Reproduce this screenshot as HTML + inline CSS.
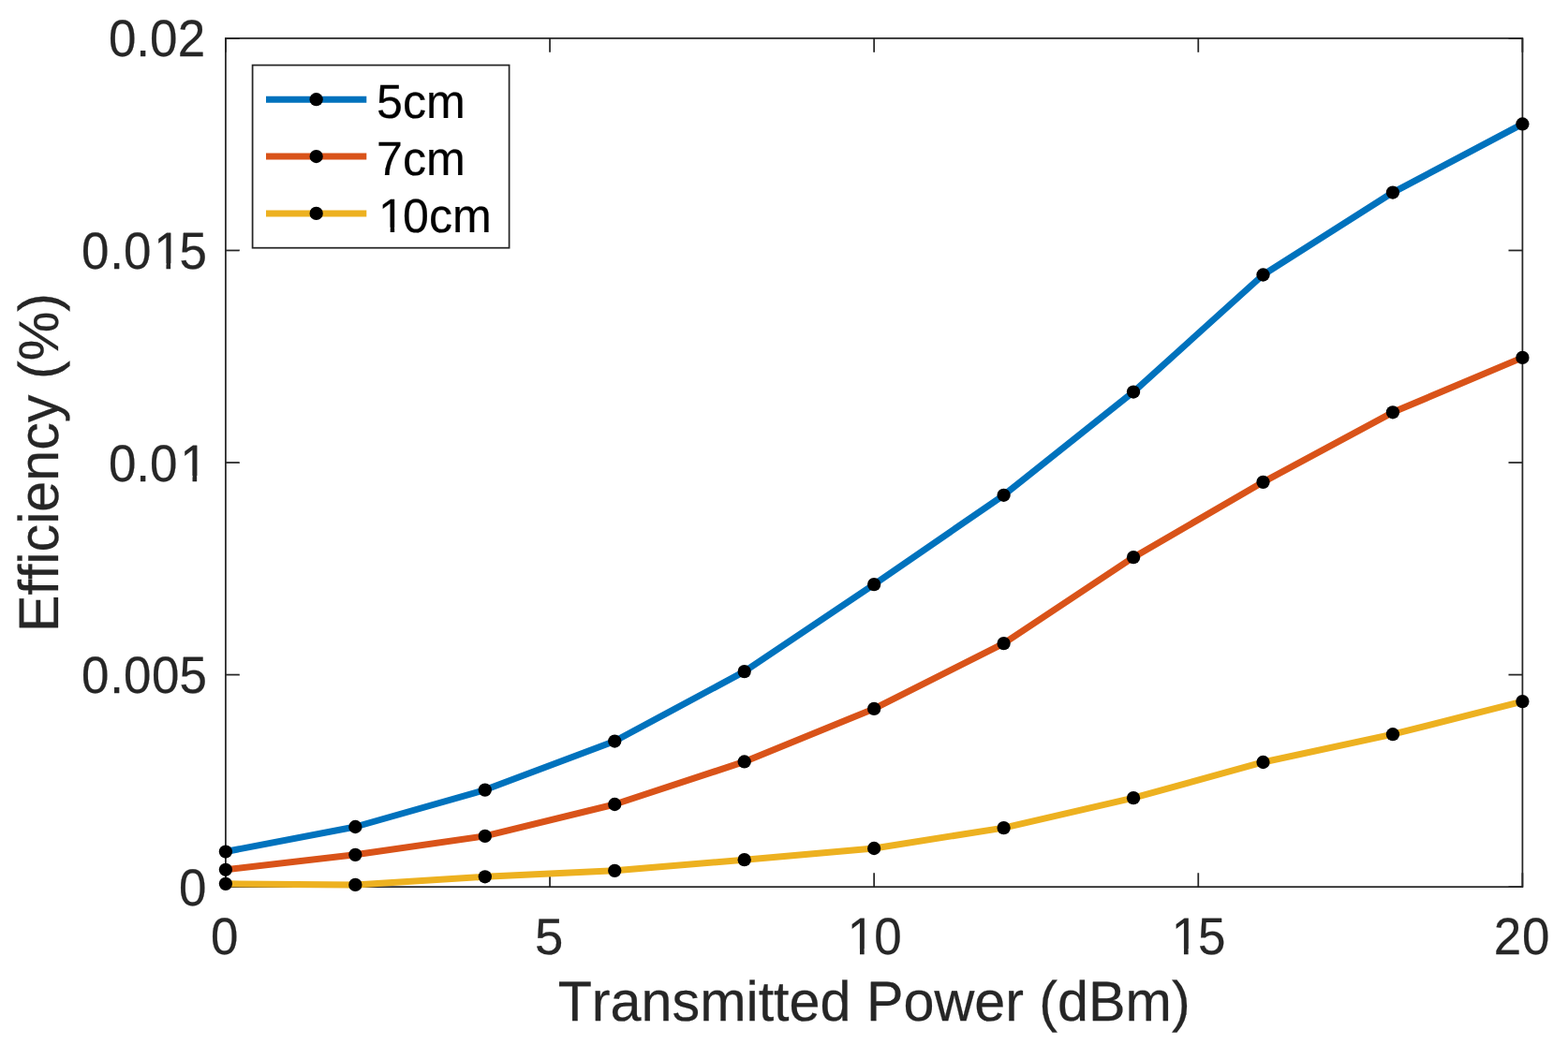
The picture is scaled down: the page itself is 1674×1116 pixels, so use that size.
<!DOCTYPE html>
<html lang="en">
<head>
<meta charset="utf-8">
<title>Efficiency (%) vs Transmitted Power (dBm)</title>
<style>
html,body{margin:0;padding:0;background:#fff;}
body{width:1674px;height:1116px;overflow:hidden;}
svg{display:block;}
text{font-family:"Liberation Sans",Arial,Helvetica,sans-serif;font-kerning:none;text-rendering:geometricPrecision;}
.tick{font-size:54px;fill:#262626;stroke:#262626;stroke-width:0.25px;}
.lab{font-size:59.4px;fill:#262626;stroke:#262626;stroke-width:0.25px;}
.leg{font-size:49.5px;fill:#000;stroke:#000;stroke-width:0.2px;}
</style>
</head>
<body>
<svg width="1674" height="1116" viewBox="0 0 1674 1116" role="img" aria-label="Efficiency (%) versus Transmitted Power (dBm) for 5cm, 7cm and 10cm">
<rect x="0" y="0" width="1674" height="1116" fill="#ffffff"/>
<g id="axes" stroke="#262626" stroke-width="1.75" fill="none" stroke-linecap="square">
<rect x="240.9" y="40.9" width="1384.5" height="906.25"/>
<line x1="240.90" y1="947.15" x2="240.90" y2="932.25" stroke-linecap="butt"/>
<line x1="240.90" y1="40.9" x2="240.90" y2="55.8" stroke-linecap="butt"/>
<line x1="587.02" y1="947.15" x2="587.02" y2="932.25" stroke-linecap="butt"/>
<line x1="587.02" y1="40.9" x2="587.02" y2="55.8" stroke-linecap="butt"/>
<line x1="933.15" y1="947.15" x2="933.15" y2="932.25" stroke-linecap="butt"/>
<line x1="933.15" y1="40.9" x2="933.15" y2="55.8" stroke-linecap="butt"/>
<line x1="1279.28" y1="947.15" x2="1279.28" y2="932.25" stroke-linecap="butt"/>
<line x1="1279.28" y1="40.9" x2="1279.28" y2="55.8" stroke-linecap="butt"/>
<line x1="1625.40" y1="947.15" x2="1625.40" y2="932.25" stroke-linecap="butt"/>
<line x1="1625.40" y1="40.9" x2="1625.40" y2="55.8" stroke-linecap="butt"/>
<line x1="240.9" y1="947.15" x2="255.8" y2="947.15" stroke-linecap="butt"/>
<line x1="1625.4" y1="947.15" x2="1610.5" y2="947.15" stroke-linecap="butt"/>
<line x1="240.9" y1="720.59" x2="255.8" y2="720.59" stroke-linecap="butt"/>
<line x1="1625.4" y1="720.59" x2="1610.5" y2="720.59" stroke-linecap="butt"/>
<line x1="240.9" y1="494.02" x2="255.8" y2="494.02" stroke-linecap="butt"/>
<line x1="1625.4" y1="494.02" x2="1610.5" y2="494.02" stroke-linecap="butt"/>
<line x1="240.9" y1="267.46" x2="255.8" y2="267.46" stroke-linecap="butt"/>
<line x1="1625.4" y1="267.46" x2="1610.5" y2="267.46" stroke-linecap="butt"/>
<line x1="240.9" y1="40.90" x2="255.8" y2="40.90" stroke-linecap="butt"/>
<line x1="1625.4" y1="40.90" x2="1610.5" y2="40.90" stroke-linecap="butt"/>
</g>
<g id="xticks">
<text class="tick" transform="translate(0,1019.00) scale(0.98,1.028)" x="229.62" y="0">0</text>
<text class="tick" transform="translate(0,1019.00) scale(1.01,1.007)" x="565.29" y="0">5</text>
<text class="tick" transform="translate(0,1019.00) scale(0.98,1.028)" x="923.16 952.20" y="0">10</text><path fill="#ffffff" d="M907.23 1013.35H918.01V1020.50H907.23ZM922.68 1013.35H933.05V1020.50H922.68Z"/>
<text class="tick" transform="translate(0,1019.00) scale(0.98,1.028)" x="1276.16 1305.20" y="0">15</text><path fill="#ffffff" d="M1253.17 1013.35H1263.95V1020.50H1253.17ZM1268.62 1013.35H1278.99V1020.50H1268.62Z"/>
<text class="tick" transform="translate(0,1019.00) scale(0.98,1.028)" x="1627.24 1658.24" y="0">20</text>
</g>
<g id="yticks">
<text class="tick" transform="translate(0,966.65) scale(0.98,1.028)" x="194.96" y="0">0</text>
<text class="tick" transform="translate(0,740.09) scale(0.98,1.028)" x="88.83 119.54 134.72 165.26 195.31" y="0">0.005</text>
<text class="tick" transform="translate(0,513.52) scale(0.98,1.028)" x="118.32 148.11 163.16 196.12" y="0">0.01</text><path fill="#ffffff" d="M194.73 507.88H205.51V515.02H194.73ZM210.18 507.88H220.55V515.02H210.18Z"/>
<text class="tick" transform="translate(0,286.96) scale(0.98,1.028)" x="88.83 119.54 134.72 167.49 195.31" y="0">0.015</text><path fill="#ffffff" d="M166.67 281.32H177.45V288.46H166.67ZM182.12 281.32H192.49V288.46H182.12Z"/>
<text class="tick" transform="translate(0,60.40) scale(0.98,1.028)" x="118.32 148.11 163.16 193.57" y="0">0.02</text>
</g>
<text id="xlabel" class="lab" text-anchor="middle" transform="translate(933.15,1090) scale(0.9976,1.01)">Transmitted Power (dBm)</text>
<text id="ylabel" class="lab" text-anchor="middle" transform="translate(62,494.02) rotate(-90) scale(0.9976,1.01)">Efficiency (%)</text>
<g id="data">
<polyline points="240.90,909.54 379.35,883.00 517.80,843.57 656.25,791.54 794.70,717.10 933.15,624.09 1071.60,528.78 1210.05,418.56 1348.50,293.50 1486.95,205.54 1625.40,132.46" fill="none" stroke="#0072BD" stroke-width="7" stroke-linejoin="round" stroke-linecap="butt"/>
<g fill="#000000">
<circle cx="240.90" cy="909.54" r="7.15"/>
<circle cx="379.35" cy="883.00" r="7.15"/>
<circle cx="517.80" cy="843.57" r="7.15"/>
<circle cx="656.25" cy="791.54" r="7.15"/>
<circle cx="794.70" cy="717.10" r="7.15"/>
<circle cx="933.15" cy="624.09" r="7.15"/>
<circle cx="1071.60" cy="528.78" r="7.15"/>
<circle cx="1210.05" cy="418.56" r="7.15"/>
<circle cx="1348.50" cy="293.50" r="7.15"/>
<circle cx="1486.95" cy="205.54" r="7.15"/>
<circle cx="1625.40" cy="132.46" r="7.15"/>
</g>
<polyline points="240.90,928.78 379.35,912.82 517.80,892.90 656.25,858.99 794.70,813.44 933.15,756.88 1071.60,687.10 1210.05,595.16 1348.50,514.84 1486.95,440.30 1625.40,381.90" fill="none" stroke="#D95319" stroke-width="7" stroke-linejoin="round" stroke-linecap="butt"/>
<g fill="#000000">
<circle cx="240.90" cy="928.78" r="7.15"/>
<circle cx="379.35" cy="912.82" r="7.15"/>
<circle cx="517.80" cy="892.90" r="7.15"/>
<circle cx="656.25" cy="858.99" r="7.15"/>
<circle cx="794.70" cy="813.44" r="7.15"/>
<circle cx="933.15" cy="756.88" r="7.15"/>
<circle cx="1071.60" cy="687.10" r="7.15"/>
<circle cx="1210.05" cy="595.16" r="7.15"/>
<circle cx="1348.50" cy="514.84" r="7.15"/>
<circle cx="1486.95" cy="440.30" r="7.15"/>
<circle cx="1625.40" cy="381.90" r="7.15"/>
</g>
<polyline points="240.90,943.87 379.35,944.93 517.80,936.29 656.25,929.86 794.70,918.17 933.15,906.00 1071.60,884.10 1210.05,852.15 1348.50,813.98 1486.95,784.20 1625.40,749.10" fill="none" stroke="#EDB120" stroke-width="7" stroke-linejoin="round" stroke-linecap="butt"/>
<g fill="#000000">
<circle cx="240.90" cy="943.87" r="7.15"/>
<circle cx="379.35" cy="944.93" r="7.15"/>
<circle cx="517.80" cy="936.29" r="7.15"/>
<circle cx="656.25" cy="929.86" r="7.15"/>
<circle cx="794.70" cy="918.17" r="7.15"/>
<circle cx="933.15" cy="906.00" r="7.15"/>
<circle cx="1071.60" cy="884.10" r="7.15"/>
<circle cx="1210.05" cy="852.15" r="7.15"/>
<circle cx="1348.50" cy="813.98" r="7.15"/>
<circle cx="1486.95" cy="784.20" r="7.15"/>
<circle cx="1625.40" cy="749.10" r="7.15"/>
</g>
</g>
<g id="legend">
<rect x="269.6" y="69.58" width="274" height="195.14" fill="#ffffff" stroke="#262626" stroke-width="1.75"/>
<line x1="284" y1="106.2" x2="391.3" y2="106.2" stroke="#0072BD" stroke-width="7"/>
<circle cx="337.65" cy="106.2" r="7.15" fill="#000000"/>
<text class="leg" transform="translate(0,126.30) scale(1.013,1.03)" x="396.94 424.47 449.22" y="0">5cm</text>
<line x1="284" y1="167.05" x2="391.3" y2="167.05" stroke="#D95319" stroke-width="7"/>
<circle cx="337.65" cy="167.05" r="7.15" fill="#000000"/>
<text class="leg" transform="translate(0,187.15) scale(1.013,1.03)" x="396.94 424.47 449.22" y="0">7cm</text>
<line x1="284" y1="227.9" x2="391.3" y2="227.9" stroke="#EDB120" stroke-width="7"/>
<circle cx="337.65" cy="227.9" r="7.15" fill="#000000"/>
<text class="leg" transform="translate(0,248.00) scale(1.013,1.03)" x="398.91 424.47 452.00 476.75" y="0">10cm</text><path fill="#ffffff" d="M406.42 242.69H416.71V249.50H406.42ZM421.14 242.69H431.04V249.50H421.14Z"/>
</g>
</svg>
</body>
</html>
